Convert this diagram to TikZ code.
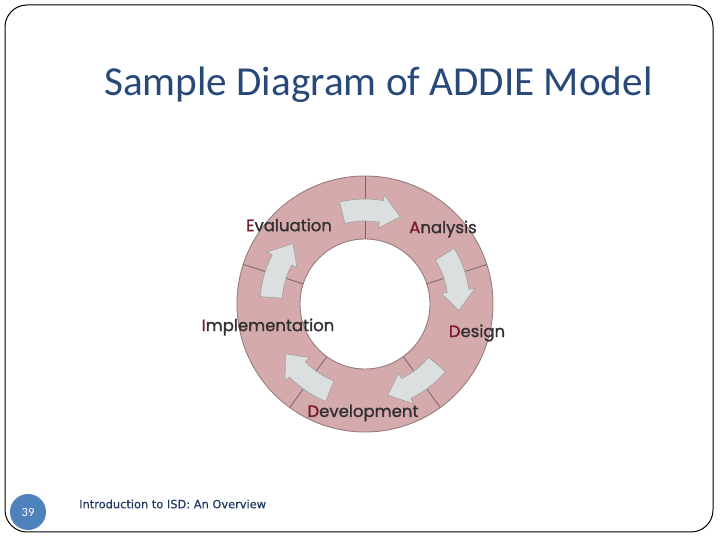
\documentclass[tikz,border=0pt]{standalone}
\usepackage{fontspec}
\setmainfont{Carlito}
\newfontfamily\labelfont{Poppins}[FakeBold=1.2]
\newfontfamily\footfont{DejaVu Sans}[FakeBold=0.6]
\definecolor{titleblue}{RGB}{39,73,122}
\definecolor{ringfill}{RGB}{213,170,172}
\definecolor{ringline}{RGB}{150,125,126}
\definecolor{divline}{RGB}{125,100,100}
\definecolor{arrowfill}{RGB}{220,223,223}
\definecolor{arrowline}{RGB}{160,160,160}
\definecolor{initred}{RGB}{123,26,43}
\definecolor{labelgrey}{RGB}{50,48,48}
\definecolor{footblue}{RGB}{79,129,189}
\definecolor{foottext}{RGB}{31,58,96}
\tikzset{
  lbl/.style={font=\labelfont\fontsize{16.5}{19}\selectfont, text=labelgrey, inner sep=0pt},
  cyclearrow/.style={fill=arrowfill, draw=arrowline, line width=0.6pt, line join=round},
  divider/.style={draw=divline, line width=0.8pt}
}
\newcommand{\initial}[1]{\textcolor{initred}{#1}}
\begin{document}
\begin{tikzpicture}[x=1pt,y=1pt]
\useasboundingbox (0,0) rectangle (720,540);
\draw[rounded corners=22pt, line width=1pt] (5,8) rectangle (713,535);
\node[anchor=base west, text=titleblue, font=\fontsize{41.2}{48}\selectfont, inner sep=0pt] (title) at (104,444) {Sample Diagram of ADDIE Model};
\begin{scope}[shift={(365,236)}]
  \fill[ringfill, even odd rule] (0,0) circle (128) (0,0) circle (65);
  \draw[ringline, line width=0.9pt] (0,0) circle (128);
  \draw[ringline, line width=0.9pt] (0,0) circle (65);
  \foreach \a in {90,18,-54,-126,162} {
    \draw[divider] (\a:65) -- (\a:128);
  }
  \foreach \a in {90,18,-54,-126,162} {
    \filldraw[cyclearrow] ({\a+14}:83) arc[start angle={\a+14}, end angle={\a-10}, radius=83]
      -- ({\a-10}:77) -- ({\a-22}:94) -- ({\a-10}:111) -- ({\a-10}:105)
      arc[start angle={\a-10}, end angle={\a+14}, radius=105] -- cycle;
  }
\end{scope}
\node[lbl] (evaluation) at (289,315) {\initial{E}valuation};
\node[lbl] (analysis) at (443,311) {\initial{A}nalysis};
\node[lbl] (design) at (477,207) {\initial{D}esign};
\node[lbl] (development) at (363,127) {\initial{D}evelopment};
\node[lbl] (implementation) at (268,213) {\initial{I}mplementation};
\node[circle, fill=footblue, minimum size=36pt, inner sep=0pt, text=white, font=\fontsize{12.5}{14}\selectfont] (num) at (28,28) {39};
\node[anchor=west, inner sep=0pt, text=foottext, font=\footfont\fontsize{11.4}{13}\selectfont] (foot) at (79,36) {Introduction to ISD: An Overview};
\end{tikzpicture}
\end{document}
